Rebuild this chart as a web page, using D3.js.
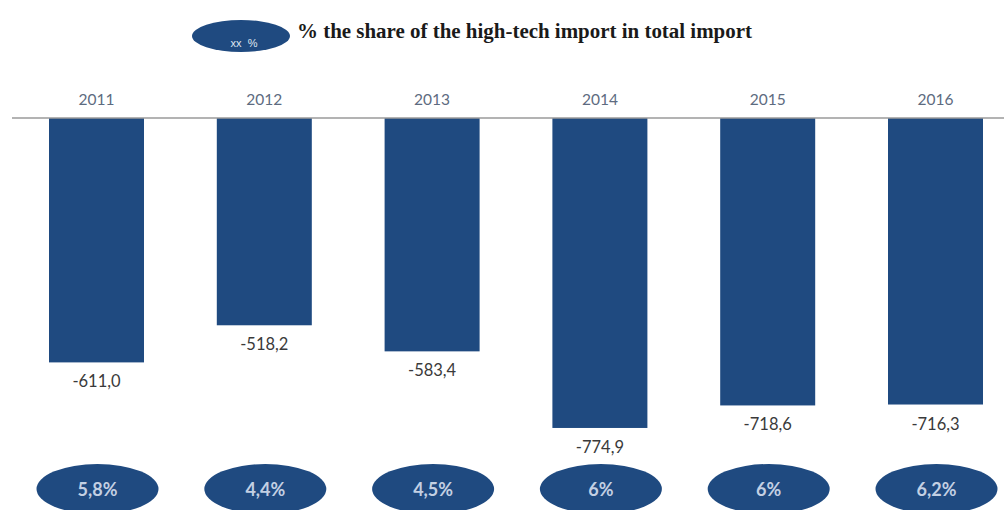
<!DOCTYPE html>
<html>
<head>
<meta charset="utf-8">
<script src="https://cdn.jsdelivr.net/npm/d3@7"></script>
<style>
  html, body { margin: 0; padding: 0; background: #ffffff; }
  svg { display: block; }
</style>
</head>
<body>
<svg id="chart" width="1004" height="510"></svg>
<script>
// High-tech trade balance by year, with the share of high-tech import in total import
const years = ["2011", "2012", "2013", "2014", "2015", "2016"];
const balance = [-611.0, -518.2, -583.4, -774.9, -718.6, -716.3];
const shareLabels = ["5,8%", "4,4%", "4,5%", "6%", "6%", "6,2%"];
const legendText = "% the share of the high-tech import in total import";

const W = 1004, H = 510;
const barColor = "#1f4a80";
const svg = d3.select("#chart");

const x = d3.scalePoint().domain(years).range([96.5, 935.5]);
const barW = 95;
const y = d3.scaleLinear().domain([0, -800]).range([118, 438]);

const fmt = v => d3.format(".1f")(v).replace("−", "-").replace(".", ",");

// legend
const lg = svg.append("g");
lg.append("ellipse").attr("cx", 241).attr("cy", 36).attr("rx", 49).attr("ry", 16).attr("fill", barColor);
lg.append("text").attr("x", 244).attr("y", 47).attr("text-anchor", "middle")
  .attr("font-family", "Liberation Sans, Arial, sans-serif").attr("font-size", 11)
  .attr("fill", "#dfe6f0").attr("xml:space", "preserve").text("xx  %");
lg.append("text").attr("x", 297).attr("y", 38)
  .attr("font-family", "Liberation Serif, Times New Roman, serif").attr("font-weight", "bold")
  .attr("font-size", 20).attr("fill", "#1a1a1a")
  .attr("textLength", 455).attr("lengthAdjust", "spacingAndGlyphs")
  .text(legendText);

// year labels along the top
svg.append("g").selectAll("text").data(years).join("text")
  .attr("x", d => x(d)).attr("y", 105).attr("text-anchor", "middle")
  .attr("font-family", "Lato, Open Sans, sans-serif").attr("font-size", 15.5)
  .attr("fill", "#5d6b80").text(d => d);

// bars
svg.append("g").selectAll("rect").data(years).join("rect")
  .attr("x", d => x(d) - barW / 2)
  .attr("y", y(0))
  .attr("width", barW)
  .attr("height", (d, i) => y(balance[i]) - y(0))
  .attr("fill", barColor);

// zero line
svg.append("line").attr("x1", 12).attr("x2", W).attr("y1", y(0)).attr("y2", y(0))
  .attr("stroke", "#9a9a9a").attr("stroke-width", 1.5);

// value labels below each bar
svg.append("g").selectAll("text").data(years).join("text")
  .attr("x", d => x(d)).attr("y", (d, i) => y(balance[i]) + 25)
  .attr("text-anchor", "middle")
  .attr("font-family", "Lato, Open Sans, sans-serif").attr("font-size", 16.5)
  .attr("fill", "#3a3a3a").text((d, i) => fmt(balance[i]));

// share ellipses at the bottom
const sg = svg.append("g").selectAll("g").data(years).join("g")
  .attr("transform", d => `translate(${x(d) + 1},489)`);
sg.append("ellipse").attr("rx", 61).attr("ry", 25).attr("fill", barColor);
sg.append("text").attr("y", 7).attr("text-anchor", "middle")
  .attr("font-family", "Lato, Open Sans, sans-serif").attr("font-size", 18).attr("font-weight", "bold")
  .attr("fill", "#c3d0e3").text((d, i) => shareLabels[i]);
</script>
</body>
</html>
